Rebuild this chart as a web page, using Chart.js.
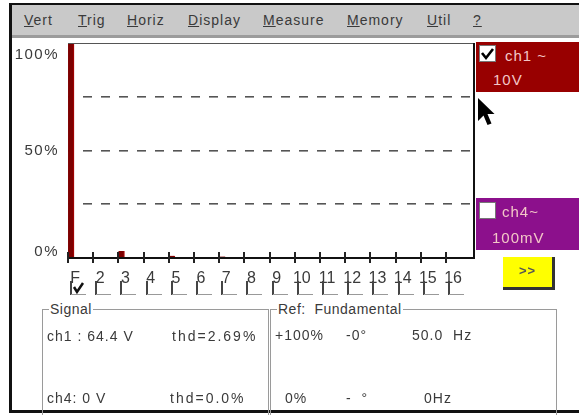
<!DOCTYPE html>
<html>
<head>
<meta charset="utf-8">
<script src="https://cdn.jsdelivr.net/npm/chart.js@4.4.1/dist/chart.umd.min.js"></script>
<style>
body { margin: 0; background: #fff; font-family: "Liberation Sans", Arial, sans-serif; color: #3a3a3a; }
#wrap { position: relative; width: 579px; height: 415px; overflow: hidden; background: #fff; }
#chart { position: absolute; left: 0; top: 0; }
.abs { position: absolute; white-space: nowrap; }
#menu { position: absolute; left: 9px; top: 3px; width: 580px; height: 30px; background: #c9c9c9;
        border-top: 2px solid #111; border-bottom: 3px solid #9c9c9c; }
#menu span.it { position: absolute; top: 7px; font-size: 14px; letter-spacing: 1px; color: #3a3a3a; }
#frameL { position: absolute; left: 9px; top: 3px; width: 3px; height: 410px; background: #111; }
#frameB { position: absolute; left: 9px; top: 410px; width: 580px; height: 3px; background: #111; }
.chan { position: absolute; left: 476px; width: 103px; color: #f3c7c7; font-size: 15px; letter-spacing: 1px; }
.cb { position: absolute; left: 3px; top: 3px; width: 17px; height: 17px; background: #fff; border: 1px solid #777; box-sizing: border-box; }
.box { position: absolute; top: 309px; height: 110px; border: 1px solid #9a9a9a; box-sizing: border-box; }
.box .ttl { position: absolute; top: -9px; left: 6px; background: #fff; font-size: 14px; letter-spacing: 0.5px; padding: 0 1px; line-height: 16px; }
.txt { position: absolute; font-size: 14px; letter-spacing: 1px; line-height: 16px; }
</style>
</head>
<body>
<div id="wrap">
  <canvas id="chart" width="579" height="415"></canvas>

  <div id="menu">
    <span class="it" style="left:15px"><u>V</u>ert</span>
    <span class="it" style="left:69px"><u>T</u>rig</span>
    <span class="it" style="left:118px"><u>H</u>oriz</span>
    <span class="it" style="left:179px"><u>D</u>isplay</span>
    <span class="it" style="left:254px"><u>M</u>easure</span>
    <span class="it" style="left:338px"><u>M</u>emory</span>
    <span class="it" style="left:418px"><u>U</u>til</span>
    <span class="it" style="left:464px"><u>?</u></span>
  </div>
  <div id="frameL"></div>
  <div id="frameB"></div>

  <div class="chan" style="top:42px;height:50px;background:#980000;">
    <div class="cb"><svg width="15" height="15" style="position:absolute;left:0;top:0"><polyline points="2,7 6,12 13,3" fill="none" stroke="#000" stroke-width="2.6"/></svg></div>
    <div class="abs" style="left:29px;top:5px">ch1 ~</div>
    <div class="abs" style="left:17px;top:29px">10V</div>
  </div>

  <svg class="abs" style="left:477px;top:97px" width="20" height="30">
    <polygon points="1,1 1,24 6.5,18.5 10.5,28 14.5,26.5 10.5,17 17.5,17" fill="#000"/>
  </svg>

  <div class="chan" style="top:198px;height:52px;background:#8c108c;">
    <div class="cb" style="top:4px"></div>
    <div class="abs" style="left:26px;top:5px">ch4~</div>
    <div class="abs" style="left:16px;top:31px">100mV</div>
  </div>

  <div class="abs" style="left:503px;top:257px;width:49px;height:30px;background:#ffff00;border-right:3px solid #333;border-bottom:3px solid #333;box-sizing:content-box;"></div>
  <div class="abs" style="left:503px;top:263px;width:49px;text-align:center;font-size:13px;color:#555;font-weight:bold;letter-spacing:1px">&gt;&gt;</div>

  <div class="box" style="left:42px;width:227px;">
    <span class="ttl">Signal</span>
  </div>
  <div class="box" style="left:270px;width:287px;">
    <span class="ttl">Ref:&nbsp; Fundamental</span>
  </div>
  <div class="txt" style="left:47px;top:328px">ch1 : 64.4 V</div>
  <div class="txt" style="left:172px;top:328px;letter-spacing:2px">thd=2.69%</div>
  <div class="txt" style="left:47px;top:390px">ch4: 0 V</div>
  <div class="txt" style="left:170px;top:390px;letter-spacing:2px">thd=0.0%</div>
  <div class="txt" style="left:275px;top:327px">+100%</div>
  <div class="txt" style="left:346px;top:327px">-0°</div>
  <div class="txt" style="left:412px;top:327px">50.0&nbsp; Hz</div>
  <div class="txt" style="left:285px;top:390px">0%</div>
  <div class="txt" style="left:346px;top:390px">- &nbsp;°</div>
  <div class="txt" style="left:424px;top:390px">0Hz</div>
</div>

<script>
// harmonic spectrum of ch1, percent of fundamental
const harmonicNumbers = [1, 2, 3, 4, 5, 6, 7, 8, 9, 10, 11, 12, 13, 14, 15, 16];
const harmonicLabels = ['F', '2', '3', '4', '5', '6', '7', '8', '9', '10', '11', '12', '13', '14', '15', '16'];
const harmonicLevels = [100, 0, 3.2, 0, 1.0, 0, 0.7, 0, 0, 0, 0, 0, 0, 0, 0, 0];
const selectedHarmonic = 1;

const gridValues = [0, 25, 50, 75, 100];
const yLabelValues = [100, 50, 0];
const yLabelTexts = ['100%', '50%', '0%'];

const scopeDecor = {
    id: 'scopeDecor',
    afterDraw(chart) {
        const { ctx, chartArea: a, scales: { x, y } } = chart;
        ctx.save();

        // plot frame: top and right edges
        ctx.strokeStyle = '#555';
        ctx.lineWidth = 1;
        ctx.beginPath();
        ctx.moveTo(a.left, a.top + 0.5);
        ctx.lineTo(a.right, a.top + 0.5);
        ctx.stroke();
        ctx.strokeStyle = '#111';
        ctx.lineWidth = 2;
        ctx.beginPath();
        ctx.moveTo(a.right - 1, a.top);
        ctx.lineTo(a.right - 1, a.bottom);
        ctx.stroke();

        // axis line
        ctx.beginPath();
        ctx.moveTo(a.left, a.bottom);
        ctx.lineTo(a.right, a.bottom);
        ctx.stroke();

        // small tick marks and the selection boxes below the labels
        harmonicNumbers.forEach(h => {
            const px = Math.round(x.getPixelForValue(h)) - 3;
            ctx.fillStyle = '#222';
            ctx.fillRect(px - 1, a.bottom - 6, 2, 11);

            ctx.strokeStyle = '#444';
            ctx.lineWidth = 2;
            ctx.beginPath();
            ctx.moveTo(px + 3, 281);
            ctx.lineTo(px + 3, 295);
            ctx.stroke();
            ctx.strokeStyle = '#999';
            ctx.lineWidth = 1;
            ctx.beginPath();
            ctx.moveTo(px + 3, 294.5);
            ctx.lineTo(px + 18, 294.5);
            ctx.stroke();
            if (h === selectedHarmonic) {
                ctx.strokeStyle = '#111';
                ctx.lineWidth = 2.5;
                ctx.beginPath();
                ctx.moveTo(px + 6, 287);
                ctx.lineTo(px + 9, 292);
                ctx.lineTo(px + 15, 283);
                ctx.stroke();
            }
        });

        // percent labels, kept inside the plot height
        ctx.font = '15px "Liberation Sans", Arial, sans-serif';
        ctx.letterSpacing = '1.5px';
        ctx.textAlign = 'right';
        ctx.textBaseline = 'middle';
        ctx.fillStyle = '#3a3a3a';
        yLabelValues.forEach((v, i) => {
            let py = y.getPixelForValue(v);
            py = Math.min(Math.max(py, a.top + 12), a.bottom - 6);
            ctx.fillText(yLabelTexts[i], 59, py);
        });
        ctx.restore();
    }
};

new Chart(document.getElementById('chart'), {
    type: 'bar',
    data: {
        datasets: [{
            data: harmonicNumbers.map((h, i) => ({ x: h, y: harmonicLevels[i] })),
            backgroundColor: '#7d0000',
            borderColor: '#b00000',
            borderWidth: { right: 1 },
            barThickness: 6
        }]
    },
    options: {
        responsive: false,
        animation: false,
        layout: { padding: { left: 68, top: 43, right: 104, bottom: 122 } },
        plugins: { legend: { display: false }, tooltip: { enabled: false } },
        scales: {
            x: {
                type: 'linear',
                offset: false,
                min: 0.88,
                max: 17.03,
                afterBuildTicks: s => { s.ticks = harmonicNumbers.map(h => ({ value: h })); },
                afterFit: s => { s.height = 35; },
                grid: { display: false },
                border: { display: false },
                ticks: {
                    callback: v => harmonicLabels[harmonicNumbers.indexOf(v)],
                    labelOffset: 4,
                    padding: 3,
                    maxRotation: 0,
                    autoSkip: false,
                    color: '#3a3a3a',
                    font: { family: '"Liberation Sans", Arial, sans-serif', size: 16 }
                }
            },
            y: {
                min: 0,
                max: 100,
                afterBuildTicks: s => { s.ticks = gridValues.map(v => ({ value: v })); },
                afterFit: s => { s.width = 0; },
                border: { display: false, dash: [9, 9], dashOffset: 3 },
                ticks: { display: false },
                grid: {
                    drawTicks: false,
                    color: c => (c.tick.value > 0 && c.tick.value < 100) ? '#555' : 'rgba(0,0,0,0)',
                    lineWidth: 1.6
                }
            }
        }
    },
    plugins: [scopeDecor]
});
</script>
</body>
</html>
